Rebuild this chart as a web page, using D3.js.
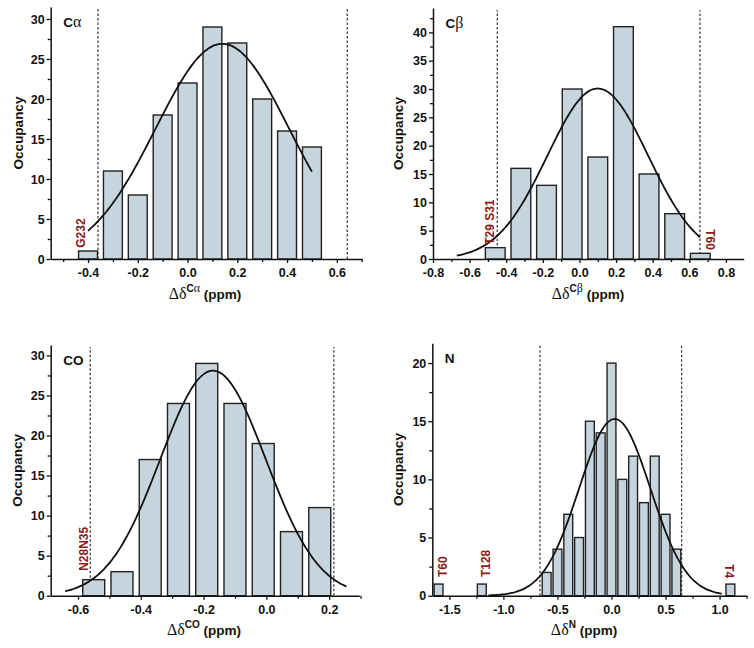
<!DOCTYPE html>
<html><head><meta charset="utf-8">
<script src="https://cdn.jsdelivr.net/npm/d3@7"></script>
<style>body{margin:0;background:#fff}text{font-family:"Liberation Sans",Arial,sans-serif}</style>
</head><body>
<svg id="c" width="754" height="648"></svg>
<script>
// ---------- data ----------
const caBins   = [-0.4,-0.3,-0.2,-0.1,0.0,0.1,0.2,0.3,0.4,0.5];
const caCounts = [1,11,8,18,22,29,27,20,16,14];
const caFit    = {A:26.9, mu:0.14, sigma:0.268, from:-0.40, to:0.50};
const caCut    = [-0.36, 0.642];
const caXMajor = [-0.4,-0.2,0.0,0.2,0.4,0.6];
const caXMinor = [-0.5,-0.3,-0.1,0.1,0.3,0.5,0.7];
const caYMajor = [0,5,10,15,20,25,30];
const caNotes  = [{text:"G232", x:-0.43, y:1.4, rot:-90}];

const cbBins   = [-0.46,-0.32,-0.18,-0.04,0.10,0.24,0.38,0.52,0.66];
const cbCounts = [2,16,13,30,18,41,15,8,1];
const cbFit    = {A:30.1, mu:0.10, sigma:0.275, from:-0.67, to:0.658};
const cbCut    = [-0.449, 0.658];
const cbXMajor = [-0.8,-0.6,-0.4,-0.2,0.0,0.2,0.4,0.6,0.8];
const cbXMinor = [-0.7,-0.5,-0.3,-0.1,0.1,0.3,0.5,0.7];
const cbYMajor = [0,5,10,15,20,25,30,35,40];
const cbNotes  = [{text:"T29 S31", x:-0.489, y:2.5, rot:-90},{text:"T60", x:0.713, y:1.6, rot:90}];

const coBins   = [-0.55,-0.46,-0.37,-0.28,-0.19,-0.10,-0.01,0.08,0.17];
const coCounts = [2,3,17,24,29,24,19,8,11];
const coFit    = {A:28.1, mu:-0.17, sigma:0.168, from:-0.641, to:0.255};
const coCut    = [-0.561, 0.215];
const coXMajor = [-0.6,-0.4,-0.2,0.0,0.2];
const coXMinor = [-0.5,-0.3,-0.1,0.1,0.3];
const coYMajor = [0,5,10,15,20,25,30];
const coNotes  = [{text:"N28N35", x:-0.583, y:3.1, rot:-90}];

const nBins    = [-1.6,-1.2,-0.6,-0.5,-0.4,-0.3,-0.2,-0.1,0.0,0.1,0.2,0.3,0.4,0.5,0.6,1.1];
const nCounts  = [1,1,2,4,7,5,15,14,20,10,12,8,12,7,4,1];
const nFit     = {A:15.2, mu:0.03, sigma:0.33, from:-1.14, to:1.02};
const nCut     = [-0.662, 0.649];
const nXMajor  = [-1.5,-1.0,-0.5,0.0,0.5,1.0];
const nXMinor  = [-1.25,-0.75,-0.25,0.25,0.75,1.25];
const nYMajor  = [0,5,10,15,20];
const nNotes   = [{text:"T60", x:-1.566, y:1.6, rot:-90},{text:"T128", x:-1.168, y:1.6, rot:-90},{text:"T4", x:1.093, y:1.5, rot:90}];

// ---------- layout ----------
const panels = [
  {name:"C", greek:"α", sup:"C", supG:"α", bins:caBins, counts:caCounts, fit:caFit, cut:caCut, xMaj:caXMajor, xMin:caXMinor, yMaj:caYMajor, notes:caNotes,
   left:50.7, right:361.7, top:7, bottom:259, xd:[-0.55,0.70], yd:[0,31.5], bw:0.076, ylabX:18.3, xlabX:205},
  {name:"C", greek:"β", sup:"C", supG:"β", bins:cbBins, counts:cbCounts, fit:cbFit, cut:cbCut, xMaj:cbXMajor, xMin:cbXMinor, yMaj:cbYMajor, notes:cbNotes,
   left:433, right:743.7, top:8, bottom:259, xd:[-0.80,0.897], yd:[0,44.3], bw:0.108, ylabX:398, xlabX:588},
  {name:"CO", greek:"", sup:"CO", supG:"", bins:coBins, counts:coCounts, fit:coFit, cut:coCut, xMaj:coXMajor, xMin:coXMinor, yMaj:coYMajor, notes:coNotes,
   left:50.7, right:359.3, top:345, bottom:595.7, xd:[-0.687,0.296], yd:[0,31.3], bw:0.070, ylabX:16.7, xlabX:204},
  {name:"N", greek:"", sup:"N", supG:"", bins:nBins, counts:nCounts, fit:nFit, cut:nCut, xMaj:nXMajor, xMin:nXMinor, yMaj:nYMajor, notes:nNotes,
   left:432.3, right:746.6, top:343.3, bottom:595.7, xd:[-1.658,1.25], yd:[0,21.7], bw:0.082, ylabX:398, xlabX:584}
];

const svg = d3.select("#c");
const fmt = d3.format(".1f");
const fmtX = v => fmt(v).replace("−","-");

panels.forEach(p => {
  const x = d3.scaleLinear().domain(p.xd).range([p.left, p.right]);
  const y = d3.scaleLinear().domain(p.yd).range([p.bottom, p.top]);
  const g = svg.append("g");

  // dashed cut lines
  g.selectAll("line.cut").data(p.cut).join("line")
    .attr("x1", d => x(d)).attr("x2", d => x(d))
    .attr("y1", y(0)).attr("y2", p.top + 2)
    .attr("stroke", "#333").attr("stroke-width", 1.2).attr("stroke-dasharray", "2.5,2");

  // bars
  g.selectAll("rect").data(p.bins.map((b,i)=>({b, c:p.counts[i]}))).join("rect")
    .attr("x", d => x(d.b - p.bw/2)).attr("width", d => x(d.b + p.bw/2) - x(d.b - p.bw/2))
    .attr("y", d => y(d.c)).attr("height", d => y(0) - y(d.c))
    .attr("fill", "#c5d4dd").attr("stroke", "#222").attr("stroke-width", 1.4);

  // gaussian fit
  const f = p.fit;
  const xs = d3.range(f.from, f.to + 1e-9, (f.to - f.from)/120);
  const pts = xs.map(v => [v, f.A*Math.exp(-((v-f.mu)**2)/(2*f.sigma*f.sigma))]);
  g.append("path").datum(pts)
    .attr("d", d3.line().x(d => x(d[0])).y(d => y(d[1])).curve(d3.curveBasis))
    .attr("fill", "none").attr("stroke", "#111").attr("stroke-width", 1.8);

  // axes
  g.append("g").attr("transform", `translate(0,${p.bottom})`)
    .call(d3.axisBottom(x).tickValues(p.xMaj).tickFormat(fmtX).tickSize(4).tickSizeOuter(0).tickPadding(5));
  g.append("g").attr("transform", `translate(0,${p.bottom})`)
    .call(d3.axisBottom(x).tickValues(p.xMin).tickFormat("").tickSize(3).tickSizeOuter(0))
    .select(".domain").remove();
  g.append("g").attr("transform", `translate(${p.left},0)`)
    .call(d3.axisLeft(y).tickValues(p.yMaj).tickFormat(d3.format("d")).tickSize(4).tickSizeOuter(0).tickPadding(2));
  const yMin = p.yMaj.map(v => v + 2.5).filter(v => v < p.yd[1]);
  g.append("g").attr("transform", `translate(${p.left},0)`)
    .call(d3.axisLeft(y).tickValues(yMin).tickFormat("").tickSize(3).tickSizeOuter(0))
    .select(".domain").remove();
  g.selectAll(".domain").attr("stroke", "#111").attr("stroke-width", 1.5);
  g.selectAll(".tick line").attr("stroke", "#111").attr("stroke-width", 1.3);
  g.selectAll(".tick text").attr("font-family", '"Liberation Sans",Arial,sans-serif')
    .attr("font-size", 12.5).attr("font-weight", "bold").attr("fill", "#111");

  // panel label
  const pl = g.append("text").attr("x", p.left + 12.5).attr("y", p.top + 20)
    .attr("font-size", 13.5).attr("font-weight", "bold").attr("fill", "#111");
  pl.append("tspan").text(p.name);
  if (p.greek) pl.append("tspan").attr("font-family", '"Liberation Serif",serif').attr("font-weight", "normal").attr("font-size", 16).text(p.greek);

  // y label
  const cy = (p.top + p.bottom) / 2;
  g.append("text").attr("transform", `translate(${p.ylabX + 5},${cy}) rotate(-90)`)
    .attr("text-anchor", "middle").attr("font-size", 13.5).attr("font-weight", "bold").attr("fill", "#111")
    .text("Occupancy");

  // x label
  const xl = g.append("text").attr("x", p.xlabX).attr("y", p.bottom + 39.5)
    .attr("text-anchor", "middle").attr("font-size", 13.5).attr("font-weight", "bold").attr("fill", "#111");
  xl.append("tspan").attr("font-family", '"Liberation Serif",serif').attr("font-weight", "normal").attr("font-size", 16).text("Δδ");
  const sp = xl.append("tspan").attr("dy", -7).attr("font-size", 10);
  sp.append("tspan").text(p.sup);
  if (p.supG) sp.append("tspan").attr("font-family", '"Liberation Serif",serif').attr("font-weight", "normal").attr("font-size", 12).text(p.supG);
  xl.append("tspan").attr("dy", 7).text(" (ppm)");

  // residue annotations
  p.notes.forEach(n => {
    const px = x(n.x) + (n.rot < 0 ? 4.3 : -4.3);
    g.append("text").attr("transform", `translate(${px},${y(n.y)}) rotate(${n.rot})`)
      .attr("text-anchor", n.rot < 0 ? "start" : "end")
      .attr("font-size", 12).attr("font-weight", "bold").attr("fill", "#8b1a1a")
      .text(n.text);
  });
});
</script>
</body></html>
